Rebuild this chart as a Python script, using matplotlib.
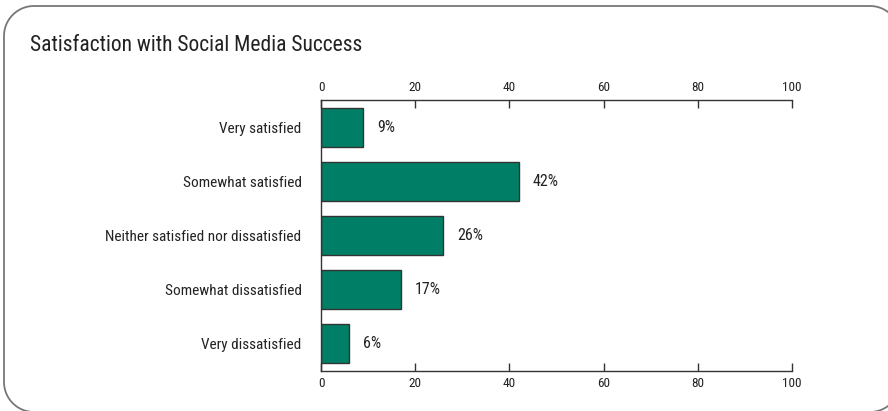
import matplotlib
matplotlib.use("Agg")
import matplotlib.pyplot as plt
import numpy as np
from matplotlib import font_manager

names = {f.name for f in font_manager.fontManager.ttflist}
prefs = ["Roboto Condensed", "Archivo Narrow", "PT Sans Narrow", "Pragati Narrow",
         "Liberation Sans Narrow", "Asap Condensed", "Liberation Sans"]
fam = next(p for p in prefs if p in names)
plt.rcParams['font.family'] = [fam, 'DejaVu Sans']

categories = ["Very satisfied", "Somewhat satisfied", "Neither satisfied nor dissatisfied",
              "Somewhat dissatisfied", "Very dissatisfied"]
values = [9, 42, 26, 17, 6]
ticks = [0, 20, 40, 60, 80, 100]
title = "Satisfaction with Social Media Success"

fig = plt.figure(figsize=(8.88, 4.11), dpi=100)

# background axes in pixel units for the rounded frame (runs past right/bottom edges)
bg = fig.add_axes([0, 0, 1, 1], zorder=-1)
bg.set_xlim(0, 888)
bg.set_ylim(0, 411)
bg.axis("off")
L, R, B, T, r = 4, 900, -1, 405, 30
xs, ys = [], []
for cx, cy, a0 in [(R - r, T - r, 0), (L + r, T - r, 90), (L + r, B + r, 180), (R - r, B + r, 270)]:
    t = np.radians(np.linspace(a0, a0 + 90, 30))
    xs.extend(cx + r * np.cos(t))
    ys.extend(cy + r * np.sin(t))
xs.append(xs[0])
ys.append(ys[0])
bg.plot(xs, ys, color="#777777", linewidth=1.3, solid_capstyle="round")

fig.text(30 / 888, 1 - 51 / 411, title, fontsize=15.5, color="#222222", va="baseline")

ax = fig.add_axes([321 / 888, 1 - 371 / 411, 471 / 888, 271 / 411])
pos = list(range(len(categories)))
ax.barh(pos, values, height=0.72, color="#007F66", edgecolor="#333333", linewidth=1)
ax.set_ylim(len(categories) - 0.5, -0.5)
ax.set_xlim(0, 100)
ax.set_yticks(pos)
ax.set_yticklabels(categories, fontsize=11, color="#222222")
ax.tick_params(axis='y', length=0, pad=14)
ax.set_xticks(ticks)
ax.tick_params(axis='x', direction='in', length=6, width=1, color="#333333",
               labelsize=9.5, labelcolor="#222222", top=True, labeltop=True, pad=4)
for s in ["top", "bottom", "left"]:
    ax.spines[s].set_color("#333333")
    ax.spines[s].set_linewidth(1)
ax.spines["right"].set_visible(False)

for p, v in zip(pos, values):
    ax.text(v + 3, p, f"{v}%", va="center", ha="left", fontsize=11.5, color="#222222")

fig.savefig("out.png", dpi=100)
